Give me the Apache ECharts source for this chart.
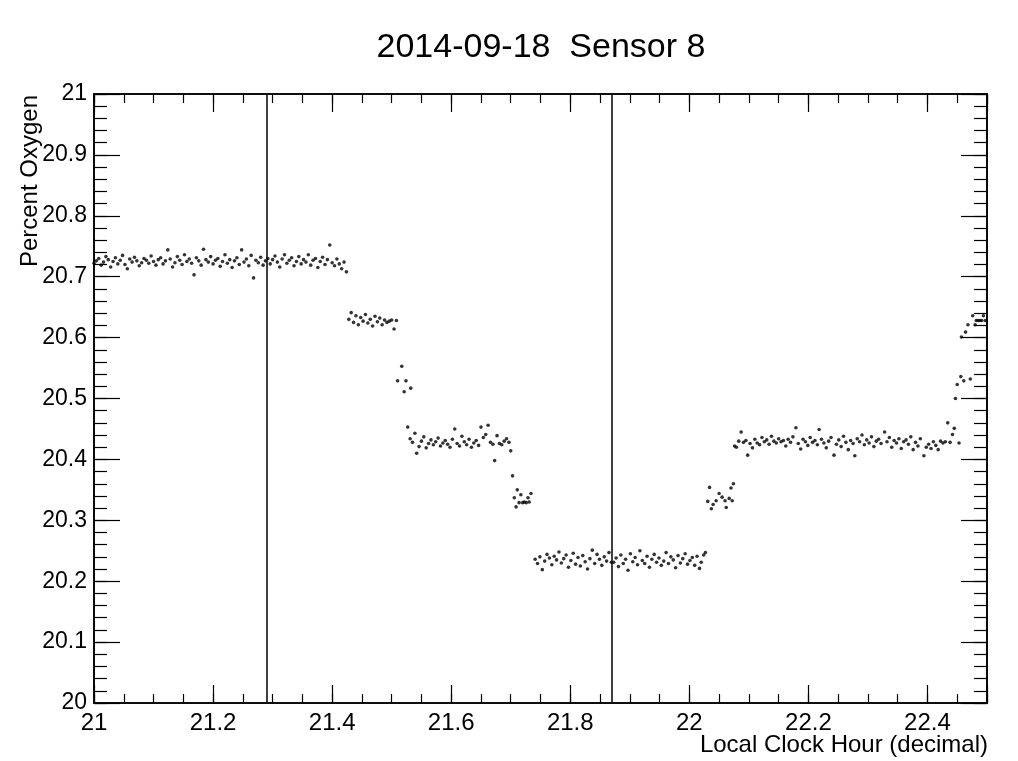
<!DOCTYPE html>
<html>
<head>
<meta charset="utf-8">
<script src="https://cdn.jsdelivr.net/npm/echarts@6/dist/echarts.min.js"></script>
<style>
html,body{margin:0;padding:0;background:#fff;}
#chart{width:1018px;height:761px;}
</style>
</head>
<body>
<div id="chart"></div>
<script>
// ---- data ----
var chartTitle = '2014-09-18  Sensor 8';
var xTitle = 'Local Clock Hour (decimal)';
var yTitle = 'Percent Oxygen';
var markerHours = [21.289, 21.867];

var level1 = [
[21.000,20.722],[21.004,20.726],[21.008,20.730],[21.012,20.719],[21.016,20.724],[21.020,20.733],[21.024,20.728],[21.028,20.716],
[21.032,20.725],[21.036,20.731],[21.040,20.721],[21.044,20.727],[21.048,20.735],[21.052,20.720],[21.056,20.713],[21.060,20.729],
[21.064,20.724],[21.068,20.732],[21.072,20.726],[21.076,20.718],[21.080,20.723],[21.084,20.730],[21.088,20.727],[21.092,20.722],
[21.096,20.734],[21.100,20.725],[21.104,20.719],[21.108,20.728],[21.112,20.731],[21.116,20.721],[21.120,20.726],[21.124,20.744],
[21.128,20.729],[21.132,20.716],[21.136,20.723],[21.140,20.733],[21.144,20.727],[21.148,20.720],[21.152,20.736],[21.156,20.725],
[21.160,20.729],[21.164,20.722],[21.168,20.703],[21.172,20.731],[21.176,20.726],[21.180,20.719],[21.184,20.745],[21.188,20.728],
[21.192,20.724],[21.196,20.733],[21.200,20.721],[21.204,20.727],[21.208,20.730],[21.212,20.717],[21.216,20.725],[21.220,20.736],
[21.224,20.722],[21.228,20.728],[21.232,20.715],[21.236,20.726],[21.240,20.731],[21.244,20.720],[21.248,20.744],[21.252,20.724],
[21.256,20.729],[21.260,20.718],[21.264,20.735],[21.268,20.698],[21.272,20.727],[21.276,20.723],[21.280,20.732],[21.284,20.719],
[21.288,20.726],[21.292,20.730],[21.296,20.721],[21.300,20.728],[21.304,20.734],[21.308,20.724],[21.312,20.716],[21.316,20.729],
[21.320,20.736],[21.324,20.722],[21.328,20.727],[21.332,20.731],[21.336,20.718],[21.340,20.725],[21.344,20.733],[21.348,20.721],
[21.352,20.728],[21.356,20.724],[21.360,20.736],[21.364,20.719],[21.368,20.727],[21.372,20.730],[21.376,20.715],[21.380,20.725],
[21.384,20.732],[21.388,20.720],[21.392,20.728],[21.396,20.752],[21.400,20.723],[21.404,20.718],[21.408,20.729],[21.412,20.721],
[21.416,20.713],[21.420,20.724],[21.424,20.708]
];
var level2 = [
[21.428,20.630],[21.432,20.641],[21.436,20.625],[21.440,20.636],[21.444,20.621],[21.448,20.633],[21.452,20.627],[21.456,20.638],
[21.460,20.624],[21.464,20.630],[21.468,20.619],[21.472,20.635],[21.476,20.626],[21.480,20.632],[21.484,20.621],[21.488,20.629],
[21.492,20.625],[21.496,20.627],[21.500,20.629],[21.504,20.614],[21.508,20.628]
];
var drop1 = [[21.510,20.529],[21.517,20.553],[21.521,20.511],[21.524,20.529],[21.532,20.517]];
var level3 = [
[21.527,20.453],[21.531,20.434],[21.535,20.428],[21.539,20.443],[21.542,20.410],[21.546,20.421],[21.550,20.430],[21.554,20.437],
[21.558,20.419],[21.562,20.426],[21.566,20.432],[21.570,20.424],[21.574,20.429],[21.578,20.435],[21.582,20.422],[21.586,20.427],
[21.590,20.431],[21.594,20.425],[21.598,20.420],[21.602,20.433],[21.606,20.450],[21.610,20.426],[21.614,20.422],[21.618,20.438],
[21.622,20.429],[21.626,20.424],[21.630,20.433],[21.634,20.420],[21.638,20.427],[21.642,20.431],[21.646,20.423],[21.650,20.453],
[21.654,20.436],[21.658,20.441],[21.662,20.456],[21.666,20.428],[21.670,20.425],[21.673,20.398],[21.677,20.439],[21.681,20.426],
[21.685,20.424],[21.689,20.430],[21.693,20.434],[21.697,20.428],[21.700,20.414]
];
var drop2 = [
[21.703,20.373],[21.706,20.337],[21.709,20.322],[21.711,20.350],[21.714,20.329],[21.717,20.342],[21.720,20.329],[21.723,20.330],
[21.726,20.329],[21.729,20.337],[21.731,20.330],[21.734,20.344]
];
var level5 = [
[21.741,20.236],[21.745,20.229],[21.749,20.240],[21.753,20.219],[21.757,20.233],[21.761,20.244],[21.765,20.238],[21.769,20.227],
[21.773,20.241],[21.777,20.235],[21.781,20.248],[21.785,20.230],[21.789,20.237],[21.793,20.243],[21.797,20.223],[21.801,20.234],
[21.805,20.246],[21.809,20.228],[21.813,20.239],[21.817,20.225],[21.821,20.242],[21.825,20.232],[21.829,20.220],[21.833,20.237],
[21.837,20.251],[21.841,20.229],[21.845,20.244],[21.849,20.236],[21.853,20.226],[21.857,20.240],[21.861,20.233],[21.865,20.247],
[21.869,20.231],[21.873,20.231],[21.877,20.238],[21.881,20.224],[21.885,20.243],[21.889,20.229],[21.893,20.236],[21.897,20.218],
[21.901,20.245],[21.905,20.232],[21.909,20.239],[21.913,20.227],[21.917,20.250],[21.921,20.234],[21.925,20.229],[21.929,20.241],
[21.933,20.223],[21.937,20.236],[21.941,20.244],[21.945,20.231],[21.949,20.238],[21.953,20.226],[21.957,20.233],[21.961,20.247],
[21.965,20.229],[21.969,20.240],[21.973,20.235],[21.977,20.222],[21.981,20.242],[21.985,20.230],[21.989,20.237],[21.993,20.245],
[21.997,20.228],[22.001,20.234],[22.005,20.239],[22.009,20.226],[22.013,20.241],[22.017,20.221],[22.020,20.231],[22.024,20.243],
[22.027,20.247]
];
var rise1 = [
[22.031,20.331],[22.034,20.354],[22.037,20.319],[22.040,20.326],[22.045,20.332],[22.050,20.344],[22.055,20.338],[22.060,20.332],
[22.062,20.321],[22.067,20.336],[22.070,20.353],[22.072,20.332],[22.074,20.360]
];
var level6 = [
[22.076,20.422],[22.079,20.420],[22.083,20.430],[22.087,20.445],[22.091,20.428],[22.095,20.431],[22.098,20.407],[22.102,20.426],
[22.106,20.419],[22.110,20.433],[22.114,20.427],[22.118,20.424],[22.122,20.436],[22.126,20.429],[22.130,20.432],[22.134,20.425],
[22.138,20.438],[22.142,20.430],[22.146,20.427],[22.150,20.434],[22.154,20.429],[22.158,20.431],[22.162,20.422],[22.166,20.433],
[22.170,20.428],[22.174,20.437],[22.179,20.452],[22.183,20.426],[22.187,20.417],[22.191,20.433],[22.195,20.429],[22.199,20.423],
[22.203,20.436],[22.207,20.428],[22.211,20.431],[22.215,20.424],[22.218,20.449],[22.222,20.433],[22.226,20.427],[22.230,20.419],
[22.234,20.430],[22.238,20.436],[22.243,20.407],[22.247,20.425],[22.251,20.432],[22.255,20.421],[22.259,20.438],[22.263,20.428],
[22.267,20.416],[22.271,20.431],[22.275,20.426],[22.278,20.406],[22.282,20.434],[22.286,20.429],[22.290,20.440],[22.294,20.424],
[22.298,20.432],[22.302,20.427],[22.306,20.437],[22.310,20.421],[22.314,20.430],[22.318,20.433],[22.322,20.426],[22.328,20.445],
[22.332,20.429],[22.336,20.436],[22.340,20.420],[22.344,20.431],[22.348,20.427],[22.352,20.434],[22.356,20.418],[22.360,20.429],
[22.364,20.432],[22.368,20.425],[22.372,20.437],[22.376,20.416],[22.380,20.428],[22.384,20.422],[22.388,20.434],[22.394,20.406],
[22.398,20.420],[22.402,20.425],[22.406,20.418],[22.410,20.429],[22.414,20.423],[22.418,20.416],[22.422,20.430],[22.426,20.427],
[22.430,20.429],[22.434,20.460],[22.438,20.428],[22.442,20.441],[22.445,20.451],[22.453,20.427]
];
var rise2 = [
[22.447,20.500],[22.450,20.523],[22.456,20.536],[22.457,20.601],[22.461,20.529],[22.464,20.609],[22.468,20.621],[22.472,20.532],
[22.476,20.636],[22.480,20.621],[22.482,20.628],[22.485,20.628],[22.488,20.628],[22.491,20.628],[22.494,20.636],[22.497,20.628]
];

var xRange = [21, 22.5];
var yRange = [20, 21];
var xMajorStep = 0.2, xMinorStep = 0.05;
var yMajorStep = 0.1, yMinorStep = 0.02;

// ---- chart ----
var allPoints = [].concat(level1, level2, drop1, level3, drop2, level5, rise1, level6, rise2);
var FONT = '"Liberation Sans", Arial, Helvetica, sans-serif';
var G = {left: 94, top: 94, width: 893, height: 609};

function xAx(pos, step, len, labels) {
  return {
    type: 'value', position: pos, min: xRange[0], max: xRange[1], interval: step,
    axisLine: {show: true, onZero: false, lineStyle: {color: '#000', width: 1.6}},
    axisTick: {show: true, inside: true, length: len, lineStyle: {color: '#000', width: 1.2}},
    axisLabel: {show: labels, fontFamily: FONT, fontSize: 24, color: '#000', margin: 8,
      formatter: function (v) { return Math.abs(v - 22.5) < 1e-6 ? '' : String(Math.round(v * 10) / 10); }},
    splitLine: {show: false}
  };
}
function yAx(pos, step, len, labels) {
  return {
    type: 'value', position: pos, min: yRange[0], max: yRange[1], interval: step,
    axisLine: {show: true, onZero: false, lineStyle: {color: '#000', width: 1.6}},
    axisTick: {show: true, inside: true, length: len, lineStyle: {color: '#000', width: 1.2}},
    axisLabel: {show: labels, fontFamily: FONT, fontSize: 23, color: '#000', margin: 7,
      formatter: function (v) { return String(Math.round(v * 10) / 10); }},
    splitLine: {show: false}
  };
}

var chart = echarts.init(document.getElementById('chart'), null, {renderer: 'canvas'});
chart.setOption({
  backgroundColor: '#fff',
  animation: false,
  title: {
    text: chartTitle, left: 536, top: 26, textAlign: 'center',
    textStyle: {fontFamily: FONT, fontSize: 34, fontWeight: 'normal', color: '#000'}
  },
  grid: G,
  xAxis: [
    xAx('bottom', xMajorStep, 18, true),
    xAx('bottom', xMinorStep, 9, false),
    xAx('top', xMajorStep, 18, false),
    xAx('top', xMinorStep, 9, false)
  ],
  yAxis: [
    yAx('left', yMajorStep, 26, true),
    yAx('left', yMinorStep, 13, false),
    yAx('right', yMajorStep, 26, false),
    yAx('right', yMinorStep, 13, false)
  ],
  graphic: [
    {type: 'text', right: 1018 - 988, top: 733,
      style: {text: xTitle, font: '24px ' + FONT, fill: '#000'}},
    {type: 'text', x: 18, y: 95, rotation: Math.PI / 2,
      style: {text: yTitle, font: '24px ' + FONT, fill: '#000', textAlign: 'right', textVerticalAlign: 'top'}}
  ],
  series: [{
    type: 'scatter', xAxisIndex: 0, yAxisIndex: 0,
    symbol: 'circle', symbolSize: 3.6,
    itemStyle: {color: '#000'},
    data: allPoints,
    markLine: {
      silent: true, symbol: ['none', 'none'], label: {show: false},
      lineStyle: {color: '#111', width: 1.6, type: 'solid'},
      data: markerHours.map(function (h) { return {xAxis: h}; })
    }
  }]
});
</script>
</body>
</html>
